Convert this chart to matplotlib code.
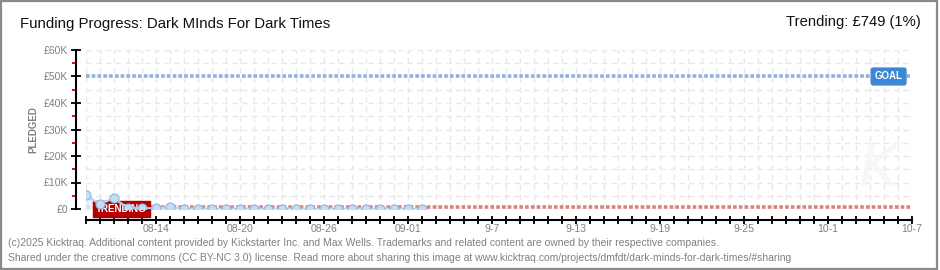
import matplotlib
matplotlib.use('Agg')
import matplotlib.pyplot as plt
import matplotlib.dates as mdates
import matplotlib.patches as patches
import datetime as dt

# campaign data (daily pledges, GBP)
start = dt.datetime(2025, 8, 9)
end = dt.datetime(2025, 10, 7)
pledged = [5300, 1800, 4100, 450, 350, 250, 850, 100, 120, 100, 100, 100, 100,
           100, 100, 100, 100, 100, 100, 100, 100, 100, 100, 100, 100]
goal = 50000
trending = 749
tick_dates = [dt.datetime(2025, 8, 14), dt.datetime(2025, 8, 20), dt.datetime(2025, 8, 26),
              dt.datetime(2025, 9, 1), dt.datetime(2025, 9, 7), dt.datetime(2025, 9, 13),
              dt.datetime(2025, 9, 19), dt.datetime(2025, 9, 25), dt.datetime(2025, 10, 1),
              dt.datetime(2025, 10, 7)]
tick_labels = ['08-14', '08-20', '08-26', '09-01', '9-7', '9-13', '9-19', '9-25', '10-1', '10-7']
y_ticks = [0, 10000, 20000, 30000, 40000, 50000, 60000]
y_labels = ['£0', '£10K', '£20K', '£30K', '£40K', '£50K', '£60K']

days = [start + dt.timedelta(days=i) for i in range(len(pledged))]

font = ['Liberation Sans', 'DejaVu Sans']
grey = '#808080'
px = 72 / 100  # points per pixel

fig = plt.figure(figsize=(9.4, 2.7), dpi=100)
W, H = 940, 270
ax = fig.add_axes([85.7 / W, (H - 209) / H, (911.7 - 85.7) / W, (209 - 50) / H])

ax.set_xlim(start, end)
ax.set_ylim(0, 60000)

# grid
ax.xaxis.set_minor_locator(mdates.DayLocator())
ax.yaxis.set_minor_locator(matplotlib.ticker.MultipleLocator(5000))
ax.grid(True, which='both', axis='both', color='#e8e8e8', linestyle=(0, (4, 3)), lw=1)
ax.set_axisbelow(True)

# watermark
fig.text(878 / W, 1 - 170 / H, 'K', fontsize=44, style='italic', color='#f7f7f7',
         ha='center', va='center', zorder=0)

# goal and trending lines
ax.plot([start, end], [goal, goal], color='#8fb2dc', lw=2.6, linestyle=(0, (1, 0.6)), zorder=2)
ax.plot([start, end], [trending, trending], color='#dc8080', lw=2.6, linestyle=(0, (1, 0.6)), zorder=2)

# pledges
ax.fill_between(days, pledged, 0, color='#e4eefa', alpha=0.8, zorder=2)
ax.plot(days, pledged, color='#b7d0ee', lw=1.5, zorder=4)
ax.plot(days, pledged, 'o', ms=6.5, mfc='#c6dcf6', mec='#93b3da', mew=0.8, zorder=5)

# labels on lines
ax.text(start + dt.timedelta(days=2.55), 0, 'TRENDING', color='white', family=font,
        fontsize=7, fontweight='bold', ha='center', va='center', zorder=3,
        bbox=dict(boxstyle='square,pad=0.35', fc='#b30000', ec='#b30000'))
ax.text(end - dt.timedelta(days=1.65), goal, 'GOAL', color='white', family=font,
        fontsize=7, fontweight='bold', ha='center', va='center', zorder=3,
        bbox=dict(boxstyle='round,pad=0.35,rounding_size=0.2', fc='#3a87d6', ec='#3a87d6'))

# spines / ticks
for s in ['top', 'right']:
    ax.spines[s].set_visible(False)
ax.spines['left'].set_position(('outward', 9.7 * px))
ax.spines['bottom'].set_position(('outward', 11 * px))
ax.spines['left'].set_linewidth(1.5)
ax.spines['bottom'].set_linewidth(1.5)

ax.set_yticks(y_ticks)
ax.set_yticklabels(y_labels)
ax.set_xticks(tick_dates)
ax.set_xticklabels(tick_labels)
ax.tick_params(axis='y', which='major', direction='inout', length=7, width=1.3, colors='black',
               labelcolor=grey, labelsize=7.5, pad=2)
ax.tick_params(axis='y', which='minor', direction='out', length=3, width=1.3, color='#d00000')
ax.tick_params(axis='x', which='both', direction='inout', length=6, width=1.3, colors='black',
               labelcolor=grey, labelsize=7.5, pad=0)
for lbl in ax.get_yticklabels() + ax.get_xticklabels():
    lbl.set_family(font)

ax.set_ylabel('PLEDGED', color=grey, fontsize=7, labelpad=4, fontweight='bold', family=font)

# titles and footer
fig.text(20 / W, 1 - 24 / H, 'Funding Progress: Dark MInds For Dark Times', family=font,
         fontsize=10.8, ha='left', va='center', color='#111111')
fig.text(921 / W, 1 - 22 / H, 'Trending: £749 (1%)', family=font,
         fontsize=10.6, ha='right', va='center', color='#111111')
fig.text(8 / W, 1 - 243 / H,
         '(c)2025 Kicktraq. Additional content provided by Kickstarter Inc. and Max Wells. '
         'Trademarks and related content are owned by their respective companies.',
         family=font, fontsize=7.5, color=grey, ha='left', va='center')
fig.text(8 / W, 1 - 258 / H,
         'Shared under the creative commons (CC BY-NC 3.0) license. Read more about sharing this image at '
         'www.kicktraq.com/projects/dmfdt/dark-minds-for-dark-times/#sharing',
         family=font, fontsize=7.5, color=grey, ha='left', va='center')

# frame round the picture
fig.patches.append(patches.Rectangle((0.001, 0.003), 0.996, 0.994, transform=fig.transFigure,
                                     fill=False, ec='#8a8a8a', lw=1.6))

fig.savefig('out.png', dpi=100)
